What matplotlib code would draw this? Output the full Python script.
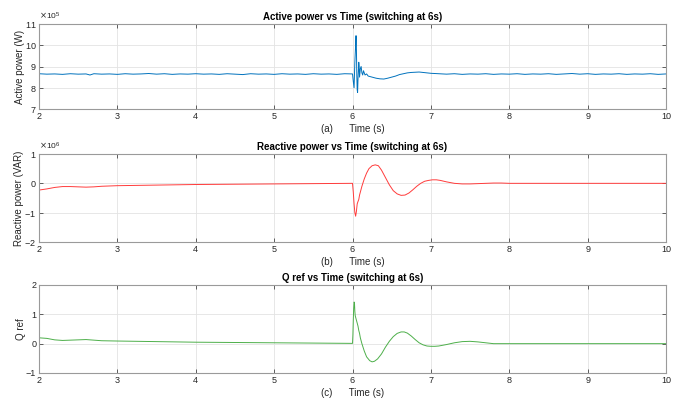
import numpy as np
import matplotlib
matplotlib.use('Agg')
import matplotlib.pyplot as plt
from matplotlib.ticker import ScalarFormatter

plt.rcParams['font.family'] = ['Liberation Sans', 'DejaVu Sans']


class OrdemFixa(ScalarFormatter):
    # formatador com expoente fixo (x10^5, x10^6)
    def __init__(self, ordem):
        self.ordem = ordem
        super().__init__(useMathText=True)

    def _set_order_of_magnitude(self):
        self.orderOfMagnitude = self.ordem


# Potencia ativa (x1e5 W)
t_p = [2.0, 2.1, 2.2, 2.3, 2.4, 2.5, 2.6, 2.65, 2.7, 2.8, 2.9, 3.0, 3.1, 3.2, 3.3, 3.4,
       3.5, 3.6, 3.7, 3.8, 3.9, 4.0, 4.1, 4.2, 4.3, 4.4, 4.5, 4.6, 4.7, 4.8, 4.9,
       5.0, 5.1, 5.2, 5.3, 5.4, 5.5, 5.6, 5.7, 5.8, 5.9, 6.0,
       6.01, 6.02, 6.025, 6.03, 6.04, 6.045, 6.05, 6.055, 6.06, 6.065, 6.07, 6.08,
       6.085, 6.09, 6.10, 6.11, 6.12, 6.13, 6.14, 6.16, 6.18, 6.20, 6.25, 6.30, 6.35,
       6.40, 6.45, 6.50, 6.55, 6.60, 6.65, 6.70, 6.75, 6.80, 6.85, 6.90, 6.95, 7.0,
       7.1, 7.2, 7.3, 7.4, 7.5, 7.6, 7.7, 7.8, 7.9, 8.0, 8.1, 8.2, 8.3, 8.4, 8.5,
       8.6, 8.7, 8.8, 8.9, 9.0, 9.1, 9.2, 9.3, 9.4, 9.5, 9.6, 9.7, 9.8, 9.9, 10.0]
p_val = [8.66, 8.64, 8.65, 8.63, 8.66, 8.64, 8.65, 8.60, 8.66, 8.64, 8.65, 8.63, 8.66, 8.64, 8.65, 8.67,
         8.64, 8.66, 8.63, 8.65, 8.64, 8.66, 8.64, 8.65, 8.63, 8.66, 8.64, 8.62, 8.66, 8.64, 8.65,
         8.63, 8.66, 8.64, 8.65, 8.63, 8.66, 8.64, 8.65, 8.63, 8.66, 8.65,
         8.3, 8.0, 8.6, 9.2, 10.0, 10.45, 9.8, 8.6, 7.9, 7.78, 8.4, 9.2,
         9.0, 8.5, 8.9, 9.0, 8.7, 8.6, 8.8, 8.6, 8.65, 8.55, 8.5, 8.45, 8.42,
         8.41, 8.45, 8.5, 8.55, 8.62, 8.66, 8.7, 8.72, 8.73, 8.74, 8.72, 8.70, 8.68,
         8.66, 8.64, 8.66, 8.63, 8.65, 8.64, 8.66, 8.63, 8.65, 8.64, 8.66, 8.63, 8.65, 8.64, 8.66,
         8.63, 8.65, 8.67, 8.64, 8.66, 8.63, 8.65, 8.64, 8.66, 8.63, 8.65, 8.64, 8.66, 8.63, 8.65]

# Potencia reativa (x1e6 VAR)
t_q = [2.0, 2.1, 2.2, 2.3, 2.4, 2.5, 2.6, 2.7, 2.8, 3.0, 3.5, 4.0, 4.5, 5.0, 5.5, 6.0,
       6.01, 6.02, 6.03, 6.04, 6.05, 6.06, 6.07, 6.08, 6.09, 6.10, 6.12, 6.15, 6.18,
       6.21, 6.25, 6.29, 6.33, 6.37, 6.42, 6.47, 6.52, 6.57, 6.62, 6.67, 6.72, 6.77,
       6.82, 6.87, 6.92, 6.97, 7.02, 7.07, 7.12, 7.2, 7.3, 7.4, 7.5, 7.6, 7.8, 7.9,
       8.0, 9.0, 10.0]
q_val = [-0.23, -0.19, -0.14, -0.11, -0.11, -0.12, -0.13, -0.12, -0.10, -0.08, -0.06, -0.04,
         -0.03, -0.02, -0.01, 0.0,
         -0.3, -0.7, -1.0, -1.12, -0.95, -0.7, -0.62, -0.55, -0.4, -0.3, -0.1, 0.15, 0.35,
         0.5, 0.6, 0.63, 0.6, 0.45, 0.2, -0.05, -0.25, -0.36, -0.41, -0.40, -0.33, -0.22,
         -0.1, 0.0, 0.07, 0.1, 0.12, 0.12, 0.1, 0.05, 0.0, -0.02, -0.02, -0.01, 0.01, 0.01,
         0.0, 0.0, 0.0]

# Q ref
t_r = [2.0, 2.1, 2.2, 2.3, 2.4, 2.5, 2.6, 2.7, 2.8, 3.0, 3.5, 4.0, 4.5, 5.0, 5.5, 6.0,
       6.005, 6.01, 6.015, 6.02, 6.025, 6.03, 6.035, 6.04, 6.05, 6.06, 6.07, 6.08, 6.09,
       6.10, 6.12, 6.15, 6.18, 6.22, 6.25, 6.28, 6.32, 6.37, 6.42, 6.47, 6.52, 6.57,
       6.62, 6.66, 6.70, 6.75, 6.80, 6.85, 6.90, 6.95, 7.0, 7.05, 7.1, 7.2, 7.3, 7.4,
       7.5, 7.6, 7.7, 7.8, 8.0, 10.0]
r_val = [0.20, 0.18, 0.13, 0.11, 0.12, 0.13, 0.14, 0.12, 0.10, 0.09, 0.07, 0.05, 0.04, 0.03,
         0.02, 0.01,
         0.3, 0.8, 1.2, 1.42, 1.4, 1.1, 0.95, 0.9, 0.8, 0.7, 0.6, 0.45, 0.35,
         0.2, 0.0, -0.25, -0.45, -0.58, -0.62, -0.6, -0.52, -0.35, -0.12, 0.08, 0.24, 0.35,
         0.4, 0.4, 0.36, 0.26, 0.14, 0.03, -0.04, -0.08, -0.09, -0.09, -0.08, -0.03, 0.03, 0.07,
         0.08, 0.06, 0.03, 0.0, 0.0, 0.0]

fig = plt.figure(figsize=(6.75, 4.0), dpi=100)
W = 675.0
H = 400.0
left = 39 / W
width = (666 - 39) / W

paineis = [
    (24, 109, np.array(t_p), np.array(p_val) * 1e5, '#0072BD', 'Active power (W)',
     'Active power vs Time (switching at 6s)', '(a)      Time (s)', (7, 11), 5),
    (154, 242, np.array(t_q), np.array(q_val) * 1e6, '#FF3B3B', 'Reactive power (VAR)',
     'Reactive power vs Time (switching at 6s)', '(b)      Time (s)', (-2, 1), 6),
    (285, 373, np.array(t_r), np.array(r_val), '#4DAF4A', 'Q ref',
     'Q ref vs Time (switching at 6s)', '(c)      Time (s)', (-1, 2), 0),
]

cinza = '#262626'
for topo, base, t, y, cor, ylab, titulo, xlab, lim, ordem in paineis:
    ax = fig.add_axes([left, 1 - base / H, width, (base - topo) / H])
    ax.plot(t, y, color=cor, linewidth=0.7)
    ax.set_xlim(2, 10)
    ax.set_xticks(np.arange(2, 11, 1))
    esc = 10.0 ** ordem
    ax.set_ylim(lim[0] * esc, lim[1] * esc)
    ax.set_yticks(np.arange(lim[0], lim[1] + 1, 1) * esc)
    if ordem > 0:
        ax.yaxis.set_major_formatter(OrdemFixa(ordem))
        ax.yaxis.get_offset_text().set_fontsize(6)
        ax.yaxis.get_offset_text().set_color('#808080')
    ax.grid(True, color='#E3E3E3', linewidth=0.6)
    ax.set_axisbelow(True)
    ax.tick_params(direction='in', length=3, width=0.5, labelsize=6.5, colors=cinza,
                   top=True, right=True, pad=2)
    for s in ax.spines.values():
        s.set_color('#9a9a9a')
        s.set_linewidth(0.8)
    ax.set_title(titulo, fontsize=7, fontweight='bold', pad=3)
    ax.set_ylabel(ylab, fontsize=7, color=cinza, labelpad=0)
    ax.set_xlabel(xlab, fontsize=7, color=cinza, labelpad=2)

fig.savefig('out.png', dpi=100)
